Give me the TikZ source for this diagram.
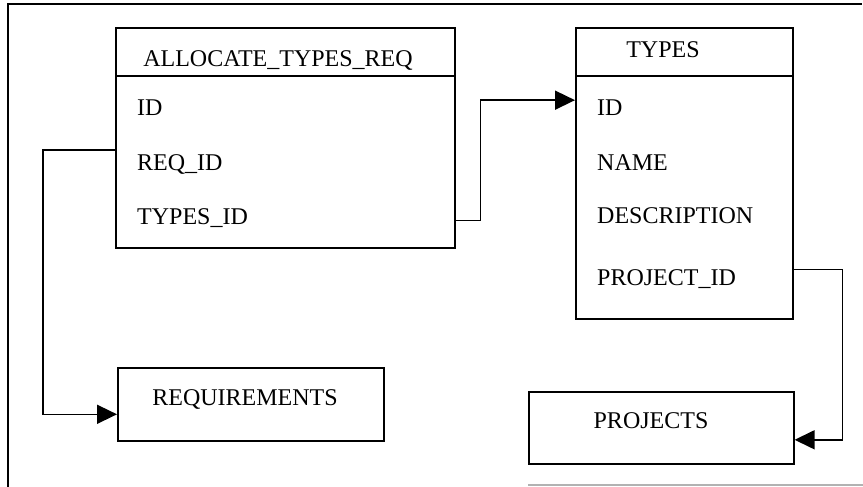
\documentclass[tikz,border=0pt]{standalone}
\usepackage{fontspec}
\setmainfont{Liberation Serif}
\usetikzlibrary{arrows.meta}

\begin{document}
\begin{tikzpicture}[x=1pt,y=-1pt,
    font=\fontsize{24}{28}\selectfont,
    tbl/.style={draw, line width=1.6pt, anchor=north west, inner sep=0pt},
    fld/.style={anchor=base west, inner sep=0pt},
    ttl/.style={anchor=base, inner sep=0pt},
    fk/.style={line width=1.6pt, -{Triangle[length=20pt,width=19pt]}}]
 \useasboundingbox (0,0) rectangle (863,487);
 % frame
 \draw[line width=1.4pt] (8,487) -- (8,4) -- (862,4);
 \draw[line width=1.4pt, gray!60] (528,485) -- (863,485);

 %ALLOCATE_TYPES_REQ
 \node[tbl, minimum width=339pt, minimum height=220pt] (atr) at (115,27) {};
 \draw[line width=1.6pt] (atr.west |- 0,76) -- (atr.east |- 0,76);
 \node[ttl] (atr-t) at (278,67) {ALLOCATE\_TYPES\_REQ};
 \node[fld] (atr-id) at (137,115) {ID};
 \node[fld] (atr-rid) at (137,170) {REQ\_ID};
 \node[fld] (atr-tid) at (137,224) {TYPES\_ID};

 %TYPES
 \node[tbl, minimum width=217pt, minimum height=291pt] (types) at (575,27) {};
 \draw[line width=1.6pt] (types.west |- 0,76) -- (types.east |- 0,76);
 \node[ttl] (types-t) at (663,58) {TYPES};
 \node[fld] (types-id) at (597,115) {ID};
 \node[fld] (types-nm) at (597,170) {NAME};
 \node[fld] (types-ds) at (597,223) {DESCRIPTION};
 \node[fld] (types-pid) at (597,285) {PROJECT\_ID};

 %REQUIREMENTS and PROJECTS
 \node[tbl, minimum width=266pt, minimum height=73pt] (req) at (117,367) {};
 \node[ttl] (req-t) at (245,405) {REQUIREMENTS};
 \node[tbl, minimum width=265pt, minimum height=72pt] (prj) at (528,391) {};
 \node[ttl] (prj-t) at (651,428) {PROJECTS};

 % links
 \draw[fk] ([yshift=-3pt]atr-tid -| atr.east) -- ++(25,0) |- ([yshift=7pt]types-id -| types.west);
 \draw[fk] ([yshift=14pt]atr-rid -| atr.west) -- ++(-72,0) |- ([yshift=-10pt]req.west);
 \draw[fk] ([yshift=9pt]types-pid -| types.east) -- ++(49,0) |- ([yshift=-12pt]prj.east);
\end{tikzpicture}
\end{document}
